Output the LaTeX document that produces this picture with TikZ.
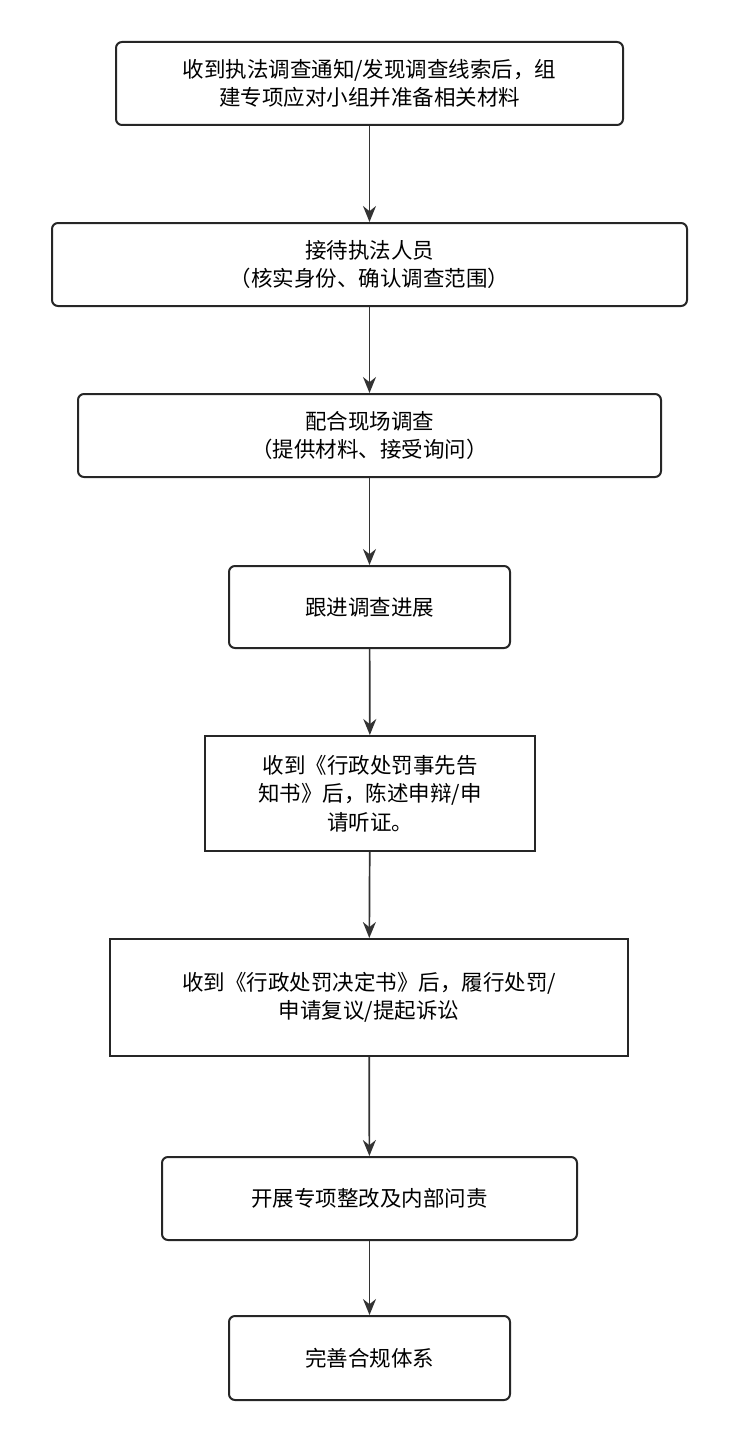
\documentclass[tikz,border=0pt]{standalone}
\usepackage{fontspec}
\setmainfont{Noto Sans CJK SC}
\usetikzlibrary{arrows.meta, positioning}

\begin{document}
\begin{tikzpicture}[
  x=1pt, y=-1pt,
  >={Stealth[length=16pt, width=13pt]},
  stepbox/.style={draw=black!85, line width=2pt, rounded corners=6pt, align=center, font=\fontsize{21.5}{28.5}\selectfont, inner sep=0pt},
  sharpbox/.style={stepbox, rounded corners=0pt},
  flow/.style={->, line width=1.7pt, black!80}
]
\useasboundingbox (0,0) rectangle (738,1442);

% steps, top to bottom
\node[stepbox, minimum width=507pt, minimum height=83pt] (notice)  at (369.5,83.5)  {收到执法调查通知/发现调查线索后，组\\建专项应对小组并准备相关材料};
\node[stepbox, minimum width=635pt, minimum height=83pt] (receive) at (369.5,264.5) {接待执法人员\\（核实身份、确认调查范围）};
\node[stepbox, minimum width=583pt, minimum height=83pt] (site)    at (369.5,435.5) {配合现场调查\\（提供材料、接受询问）};
\node[stepbox, minimum width=281pt, minimum height=82pt] (follow)  at (369.5,607)   {跟进调查进展};
\node[sharpbox, minimum width=330pt, minimum height=115pt] (defend) at (370,793.5) {收到《行政处罚事先告\\知书》后，陈述申辩/申\\请听证。};
\node[sharpbox, minimum width=518pt, minimum height=117pt] (decide) at (369,997.5) {收到《行政处罚决定书》后，履行处罚/\\申请复议/提起诉讼};
\node[stepbox, minimum width=415pt, minimum height=83pt] (rectify) at (369.5,1198.5) {开展专项整改及内部问责};
\node[stepbox, minimum width=281pt, minimum height=84pt] (improve) at (369.5,1358)  {完善合规体系};

% flows
\draw[flow] (notice) -- (receive);
\draw[flow] (receive) -- (site);
\draw[flow] (site) -- (follow);
\draw[flow] (follow) -- (defend);
\draw[flow] (defend) -- (decide);
\draw[flow] (decide) -- (rectify);
\draw[flow] (rectify) -- (improve);
\end{tikzpicture}
\end{document}
